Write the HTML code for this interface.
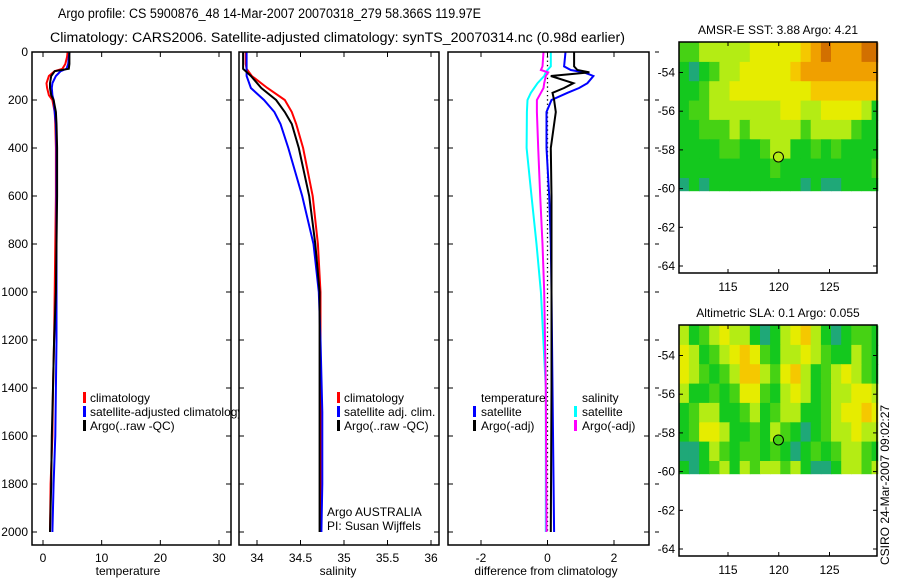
<!DOCTYPE html>
<html><head><meta charset="utf-8"><style>
html,body{margin:0;padding:0;background:#fff;}
svg{display:block;font-family:"Liberation Sans",sans-serif;}
</style></head><body>
<svg id="fig" width="900" height="580" viewBox="0 0 900 580" xmlns="http://www.w3.org/2000/svg">
<text x="58" y="18" font-size="13.5" textLength="423" lengthAdjust="spacingAndGlyphs">Argo profile: CS 5900876_48 14-Mar-2007 20070318_279 58.366S 119.97E</text>
<text x="50" y="42" font-size="13.5" textLength="575" lengthAdjust="spacingAndGlyphs">Climatology: CARS2006. Satellite-adjusted climatology: synTS_20070314.nc (0.98d earlier)</text>
<text transform="translate(889,565) rotate(-90)" font-size="12">CSIRO 24-Mar-2007 09:02:27</text>
<defs><clipPath id="clipLeg1"><rect x="0" y="0" width="239" height="580"/></clipPath></defs>
<g id="g"></g>
</svg>
<script>
// ---- data ----
const depthTicks = [0,200,400,600,800,1000,1200,1400,1600,1800,2000];
const tTicks = [0,10,20,30];
const sTicks = [34,34.5,35,35.5,36];
const dTicks = [-2,0,2];
const lonTicks = [115,120,125];
const latTicks = [-54,-56,-58,-60,-62,-64];

const depthT = [0,20,50,70,80,100,130,150,180,200,250,300,400,600,800,1000,1200,1400,1600,1800,2000];
const climT  = [4.2,4.1,3.8,3.3,2.0,1.0,0.6,0.7,1.0,1.6,2.0,2.1,2.2,2.2,2.1,2.0,1.9,1.7,1.6,1.3,1.2];
const satT   = [4.5,4.4,4.3,4.0,3.0,2.2,1.6,1.5,1.6,1.8,2.0,2.2,2.3,2.3,2.3,2.3,2.3,2.2,2.1,1.8,1.6];
const argoT  = [4.5,4.5,4.5,4.4,2.0,1.4,1.2,1.2,1.4,1.8,2.2,2.3,2.4,2.4,2.3,2.2,1.9,1.7,1.5,1.4,1.2];

const depthS = [0,50,70,100,150,200,250,300,400,600,800,1000,1200,1500,1800,2000];
const climS  = [33.87,33.87,33.88,33.94,34.12,34.32,34.40,34.45,34.53,34.64,34.70,34.73,34.73,34.73,34.73,34.73];
const argoS  = [33.84,33.84,33.84,33.93,34.05,34.22,34.32,34.40,34.48,34.60,34.67,34.72,34.72,34.72,34.72,34.72];
const satS   = [33.88,33.88,33.88,33.88,33.93,34.08,34.20,34.27,34.36,34.52,34.65,34.71,34.73,34.75,34.75,34.74];

const depthD = [0,60,75,85,100,130,150,170,200,250,400,600,800,1000,1400,2000];
const dTsat  = [0.54,0.5,0.7,1.1,1.38,1.2,0.95,0.6,0.12,-0.03,-0.03,0.05,0.1,0.12,0.15,0.2];
const dTargo = [0.8,0.8,0.9,1.26,0.1,0.78,0.5,0.15,0.2,0.25,0.1,0.12,0.12,0.12,0.12,0.1];
const dSsat  = [0.1,0.1,0.0,-0.05,-0.1,-0.3,-0.4,-0.5,-0.6,-0.62,-0.63,-0.48,-0.33,-0.2,-0.05,-0.05];
const dSargo = [-0.12,-0.15,-0.2,0.02,-0.05,-0.1,-0.12,-0.2,-0.32,-0.32,-0.28,-0.22,-0.15,-0.1,-0.05,-0.03];

const sstGrid = [
[2,2,3,3,3,3,3,4,4,4,4,4,5,6,7,6,6,6,7,7],
[1,0,1,2,3,3,4,4,4,4,4,5,6,6,6,6,6,6,6,6],
[1,1,2,3,3,4,4,4,4,4,4,4,4,5,5,5,5,5,5,5],
[1,2,2,3,3,3,3,3,3,3,4,4,3,3,4,4,4,4,3,1],
[1,1,2,2,2,3,2,3,3,3,3,3,2,3,3,3,3,2,1,1],
[1,1,1,1,2,2,1,1,2,3,3,1,1,2,1,2,1,1,1,1],
[1,1,1,1,1,1,1,1,1,2,1,1,1,1,1,1,1,1,1,2],
[0,1,0,1,1,1,1,1,1,1,1,1,0,1,0,0,1,1,1,1]];
const slaGrid = [
[3,1,2,3,4,3,3,1,0,1,3,4,5,3,1,0,1,2,2,1],
[4,3,1,2,3,4,5,4,2,1,3,3,4,3,2,1,1,3,2,1],
[4,3,2,1,2,3,5,5,3,2,4,5,3,1,2,3,4,3,2,1],
[3,1,1,2,1,2,4,4,2,1,3,4,3,1,2,3,3,4,4,3],
[1,2,3,3,1,1,2,3,1,2,3,3,1,1,2,3,4,4,5,4],
[1,2,4,4,3,1,1,2,1,3,2,1,0,1,2,3,3,4,3,3],
[0,0,1,3,2,1,2,2,1,2,1,0,1,2,1,2,3,3,2,1],
[1,0,1,2,3,1,3,2,3,3,2,3,1,0,0,1,3,3,2,3]];
const gridLon0 = 110.15, gridLat0 = -52.45, gridStep = 1;
const gridRows = [-52.45,-53.45,-54.45,-55.45,-56.45,-57.45,-58.45,-59.45,-60.1];
const argoLon = 119.97, argoLat = -58.366;
const sstArgoLevel = 3, slaArgoLevel = 2;

// ---- helpers ----
const NS = 'http://www.w3.org/2000/svg';
const G = document.getElementById('g');
function mk(tag, attrs, parent){
  const e = document.createElementNS(NS, tag);
  for (const k in attrs) e.setAttribute(k, attrs[k]);
  (parent||G).appendChild(e); return e;
}
const TOP = 52, BOT = 545;
const yD = d => TOP + d*0.24;
function lin(d0,d1,p0,p1){ return v => p0 + (v-d0)*(p1-p0)/(d1-d0); }

const panels = [
  {name:'temperature-panel', x0:32, x1:231, sx:lin(0,30,43,219), ticks:tTicks, label:'temperature', lx:128},
  {name:'salinity-panel', x0:239, x1:439, sx:lin(34,36,257,431), ticks:sTicks, label:'salinity', lx:338},
  {name:'difference-panel', x0:448, x1:649, sx:lin(-2,2,481,614), ticks:dTicks, label:'difference from climatology', lx:546}
];

function line(xs, ys, sx, color, name, w){
  const pts = xs.map((v,i)=> sx(v).toFixed(1)+','+yD(ys[i]).toFixed(1)).join(' ');
  const p = mk('polyline',{points:pts, fill:'none', stroke:color, 'stroke-width':w||2, 'stroke-linejoin':'miter'});
  
  
}
function txt(x,y,s,opts,name,parent){
  const t = mk('text', Object.assign({x:x,y:y,'font-size':12}, opts||{}), parent);
  t.textContent = s;
  
  
  return t;
}

// series
const P = panels;
line(climT, depthT, P[0].sx, '#ff0000', 'climatology-temperature-line');
line(satT, depthT, P[0].sx, '#0000ff', 'satellite-temperature-line');
line(argoT, depthT, P[0].sx, '#000000', 'argo-temperature-line');
line(climS, depthS, P[1].sx, '#ff0000', 'climatology-salinity-line');
line(satS, depthS, P[1].sx, '#0000ff', 'satellite-salinity-line');
line(argoS, depthS, P[1].sx, '#000000', 'argo-salinity-line');
{
  const z = mk('line',{x1:P[2].sx(0),x2:P[2].sx(0),y1:yD(0),y2:yD(2000),stroke:'#000','stroke-width':1.3,'stroke-dasharray':'1.3,3'});
  
  
}
line(dSsat, depthD, P[2].sx, '#00ffff', 'salinity-satellite-diff-line');
line(dSargo, depthD, P[2].sx, '#ff00ff', 'salinity-argo-diff-line');
line(dTsat, depthD, P[2].sx, '#0000ff', 'temperature-satellite-diff-line');
line(dTargo, depthD, P[2].sx, '#000000', 'temperature-argo-diff-line');

// frames & ticks
panels.forEach(p=>{
  const r = mk('rect',{x:p.x0,y:TOP,width:p.x1-p.x0,height:BOT-TOP,fill:'none',stroke:'#000','stroke-width':1.5});
  
  
  p.ticks.forEach(v=>{
    const x = p.sx(v);
    mk('line',{x1:x,x2:x,y1:BOT,y2:BOT-5,stroke:'#000'});
    mk('line',{x1:x,x2:x,y1:TOP,y2:TOP+5,stroke:'#000'});
    txt(x, BOT+17, String(v), {'text-anchor':'middle'}, p.name+'-x-tick-label');
  });
  depthTicks.forEach(d=>{
    mk('line',{x1:p.x0,x2:p.x0+5,y1:yD(d),y2:yD(d),stroke:'#000'});
    mk('line',{x1:p.x1,x2:p.x1-5,y1:yD(d),y2:yD(d),stroke:'#000'});
  });
  txt(p.lx, 575, p.label, {'text-anchor':'middle'}, p.name+'-x-axis-title');
});
depthTicks.forEach(d=>{
  txt(28, yD(d)+4, String(d), {'text-anchor':'end'}, 'depth-tick-label');
  mk('line',{x1:655,x2:659,y1:yD(d),y2:yD(d),stroke:'#000'});
});

// legends
function legBar(x,y,c){
  const b = mk('rect',{x:x,y:y-6,width:3,height:11,fill:c});
  
  
}
const lg1 = mk('g',{'clip-path':'url(#clipLeg1)'});


[['#ff0000','climatology'],['#0000ff','satellite-adjusted climatology'],['#000000','Argo(..raw -QC)']].forEach((e,i)=>{
  const y = 398+i*14; legBar(83,y,e[0]); txt(90,y+4,e[1],{},'temperature-legend-entry',lg1);
});
[['#ff0000','climatology'],['#0000ff','satellite adj. clim.'],['#000000','Argo(..raw -QC)']].forEach((e,i)=>{
  const y = 398+i*14; legBar(337,y,e[0]); txt(344,y+4,e[1],{},'salinity-legend-entry');
});
txt(327,516,'Argo AUSTRALIA',{},'argo-program-label');
txt(327,530,'PI: Susan Wijffels',{},'principal-investigator-label');
txt(481,402,'temperature',{},'difference-legend-temperature-header');
txt(582,402,'salinity',{},'difference-legend-salinity-header');
[['#0000ff','satellite',473],['#000000','Argo(-adj)',473],['#00ffff','satellite',574],['#ff00ff','Argo(-adj)',574]].forEach((e,i)=>{
  const y = 412+(i%2)*14; legBar(e[2],y,e[0]); txt(e[2]+8,y+4,e[1],{},'difference-legend-entry');
});

// maps
const cmap = ['#1fa878','#14c81e','#46d214','#b4ec14','#e6ec00','#f5c800','#f0a000','#d27000'];
function drawMap(top, grid, title, name, argoLevel){
  const L=679, R=877, H=231;
  const mx = lin(115,125,728,829.5);
  const my = lin(-54,-64,top+30.5,top+224);
  const g = mk('g',{});
  
  
  grid.forEach((row,ri)=>{
    row.forEach((v,ci)=>{
      const lon0 = gridLon0+ci*gridStep, lon1 = Math.min(lon0+gridStep, 129.75);
      const y0 = my(gridRows[ri]), y1 = my(gridRows[ri+1]);
      const c = mk('rect',{x:mx(lon0).toFixed(1),y:y0.toFixed(1),width:(mx(lon1)-mx(lon0)+0.6).toFixed(1),height:(y1-y0+0.6).toFixed(1),fill:cmap[v]},g);
      
      
    });
  });
  const f = mk('rect',{x:L,y:top,width:R-L,height:H,fill:'none',stroke:'#000','stroke-width':1.5},g);
  
  
  lonTicks.forEach(v=>{
    const x=mx(v);
    mk('line',{x1:x,x2:x,y1:top,y2:top+4,stroke:'#000'},g);
    mk('line',{x1:x,x2:x,y1:top+H,y2:top+H-4,stroke:'#000'},g);
    txt(x,top+H+18,String(v),{'text-anchor':'middle'},name+'-lon-tick-label',g);
  });
  latTicks.forEach(v=>{
    const y=my(v);
    mk('line',{x1:L,x2:L+4,y1:y,y2:y,stroke:'#000'},g);
    mk('line',{x1:R,x2:R-4,y1:y,y2:y,stroke:'#000'},g);
    txt(L-4,y+4,String(v),{'text-anchor':'end'},name+'-lat-tick-label',g);
  });
  txt((L+R)/2,top-8,title,{'text-anchor':'middle'},name+'-title',g);
  const m = mk('circle',{cx:mx(argoLon),cy:my(argoLat),r:5,fill:cmap[argoLevel],stroke:'#000','stroke-width':1},g);
  
  
}
drawMap(42, sstGrid, 'AMSR-E SST: 3.88 Argo: 4.21', 'sst-map', sstArgoLevel);
drawMap(325, slaGrid, 'Altimetric SLA: 0.1 Argo: 0.055', 'sla-map', slaArgoLevel);
</script>
</body></html>
